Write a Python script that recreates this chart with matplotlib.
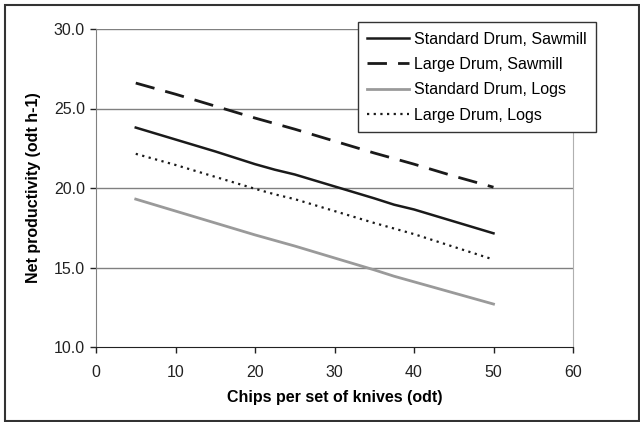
import matplotlib
matplotlib.use("Agg")
import matplotlib.pyplot as plt
from matplotlib.patches import Rectangle

plt.rcParams['font.family'] = ['Liberation Sans', 'DejaVu Sans']

# chips per set of knives (odt)
chips = [5, 10, 15, 20, 22.5, 25, 30, 35, 37.5, 40, 45, 50]

std_sawmill = [23.8, 23.05, 22.3, 21.5, 21.15, 20.85, 20.1, 19.35, 18.95, 18.65, 17.9, 17.15]
large_sawmill = [26.6, 25.9, 25.15, 24.4, 24.05, 23.7, 22.95, 22.2, 21.85, 21.5, 20.75, 20.05]
std_logs = [19.3, 18.55, 17.8, 17.05, 16.7, 16.35, 15.6, 14.85, 14.45, 14.1, 13.4, 12.7]
large_logs = [22.15, 21.45, 20.7, 19.95, 19.6, 19.3, 18.55, 17.8, 17.45, 17.1, 16.3, 15.5]

labels = ["Standard Drum, Sawmill", "Large Drum, Sawmill",
          "Standard Drum, Logs", "Large Drum, Logs"]

fig = plt.figure(figsize=(6.4, 4.22), dpi=100)
ax = fig.add_axes([96 / 640, 1 - 347 / 422, (573 - 96) / 640, (347 - 29) / 422])

# outer frame of the chart
fig.patches.append(Rectangle((4.5 / 640, 1 / 422), 634 / 640, 416 / 422,
                             transform=fig.transFigure, fill=False,
                             edgecolor="#333333", linewidth=1.5))

for y in [15, 20, 25, 30]:
    ax.axhline(y, color="#808080", linewidth=1.0, zorder=0)

ax.plot(chips, std_sawmill, color="#1a1a1a", linewidth=1.8, label=labels[0])
ax.plot(chips, large_sawmill, color="#1a1a1a", linewidth=2.0,
        dashes=(7, 4), label=labels[1])
ax.plot(chips, std_logs, color="#9a9a9a", linewidth=2.0, label=labels[2])
ax.plot(chips, large_logs, color="#1a1a1a", linewidth=1.6,
        dashes=(1, 2), label=labels[3])

ax.set_xlim(0, 60)
ax.set_ylim(10, 30)
ax.set_xticks(range(0, 61, 10))
ax.set_yticks([10, 15, 20, 25, 30])
ax.set_yticklabels(["10.0", "15.0", "20.0", "25.0", "30.0"])
ax.tick_params(labelsize=11.5, length=4, width=1, colors="#222222", direction="out")
ax.tick_params(axis="x", pad=9)
ax.tick_params(axis="y", pad=4)

ax.spines["top"].set_visible(False)
ax.spines["right"].set_color("#b0b0b0")
ax.spines["left"].set_color("#808080")
ax.spines["bottom"].set_color("#222222")

ax.set_xlabel("Chips per set of knives (odt)", fontsize=11.5, fontweight="bold", labelpad=7)
ax.set_ylabel("Net productivity (odt h-1)", fontsize=11.5, fontweight="bold", labelpad=9)

leg = ax.legend(loc="upper right", bbox_to_anchor=(596 / 640, 1 - 22 / 422),
                bbox_transform=fig.transFigure, fontsize=11.5, frameon=True,
                fancybox=False, edgecolor="#333333", framealpha=1,
                handlelength=2.6, handletextpad=0.3, borderpad=0.6,
                labelspacing=0.65, borderaxespad=0)
leg.get_frame().set_linewidth(1.0)

fig.savefig("out.png", dpi=100)
